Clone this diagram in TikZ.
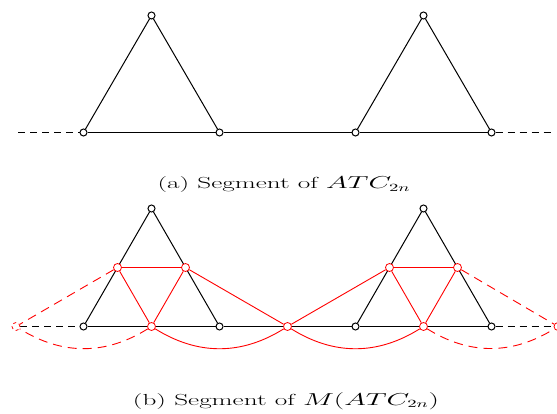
\documentclass[tikz,border=0pt]{standalone}
\usetikzlibrary{backgrounds}
\begin{document}
\begin{tikzpicture}[x=1pt,y=-1pt,
  bv/.style={circle,draw=black,fill=white,line width=1pt,inner sep=0pt,minimum size=7pt},
  rv/.style={circle,draw=red,fill=white,line width=0.8pt,inner sep=0pt,minimum size=8pt},
  bl/.style={draw=black,line width=1pt},
  bld/.style={bl,dash pattern=on 7pt off 5pt},
  rl/.style={draw=red,line width=0.9pt},
  rld/.style={rl,dash pattern=on 9pt off 6pt},
  captext/.style={inner sep=0pt,font=\fontsize{16}{19}\selectfont}]
\clip (0,0) rectangle (557,414);
% (a)
\node[bv] (a1) at (83.5,132.5) {};
\node[bv] (a2) at (219.5,132.5) {};
\node[bv] (a3) at (355.5,132.5) {};
\node[bv] (a4) at (491.5,132.5) {};
\node[bv] (t1) at (151.5,15.5) {};
\node[bv] (t2) at (423.5,15.5) {};
\coordinate (aL) at (18,132.5);
\coordinate (aR) at (553,132.5);
\begin{scope}[on background layer]
\draw[bl] (a1) -- (t1) -- (a2);
\draw[bl] (a3) -- (t2) -- (a4);
\draw[bl] (a1) -- (a2);
\draw[bl] (a2) -- (a3);
\draw[bl] (a3) -- (a4);
\draw[bld] (aL) -- (a1);
\draw[bld] (a4) -- (aR);
\end{scope}
\node[captext] (capa) at (284,185) {\scalebox{1.7}[1]{(a) Segment of $ATC_{2n}$}};
% (b)
\node[bv] (b1) at (83.5,326.5) {};
\node[bv] (b2) at (219.5,326.5) {};
\node[bv] (b3) at (355.5,326.5) {};
\node[bv] (b4) at (491.5,326.5) {};
\node[bv] (s1) at (151.5,208.5) {};
\node[bv] (s2) at (423.5,208.5) {};
\node[rv] (r1) at (117.5,267.5) {};
\node[rv] (r2) at (185.5,267.5) {};
\node[rv] (r3) at (151.5,326.5) {};
\node[rv] (r4) at (287.5,326.5) {};
\node[rv] (r5) at (389.5,267.5) {};
\node[rv] (r6) at (457.5,267.5) {};
\node[rv] (r7) at (423.5,326.5) {};
\node[rv,fill=none,dash pattern=on 3pt off 3pt] (rL) at (16,326.5) {};
\node[rv,fill=none] (rR) at (558,326.5) {};
\begin{scope}[on background layer]
\draw[bl] (b1) -- (s1) -- (b2);
\draw[bl] (b3) -- (s2) -- (b4);
\draw[bl] (b1) -- (b2);
\draw[bl] (b2) -- (b3);
\draw[bl] (b3) -- (b4);
\draw[bld] (rL) -- (b1);
\draw[bld] (b4) -- (rR);
\end{scope}
\draw[rl] (r1) -- (r2) -- (r3) -- (r1);
\draw[rl] (r2) -- (r4) -- (r5);
\draw[rl] (r5) -- (r6) -- (r7) -- (r5);
\draw[rl] (r3) to[out=-32,in=-148] (r4);
\draw[rl] (r4) to[out=-32,in=-148] (r7);
\draw[rld] (r1) -- (rL);
\draw[rld] (r6) -- (rR);
\draw[rld] (r3) to[out=-148,in=-32] (rL);
\draw[rld] (r7) to[out=-32,in=-148] (rR);
\node[captext] (capb) at (286,401) {\scalebox{1.7}[1]{(b) Segment of $M(ATC_{2n})$}};
\end{tikzpicture}
\end{document}
